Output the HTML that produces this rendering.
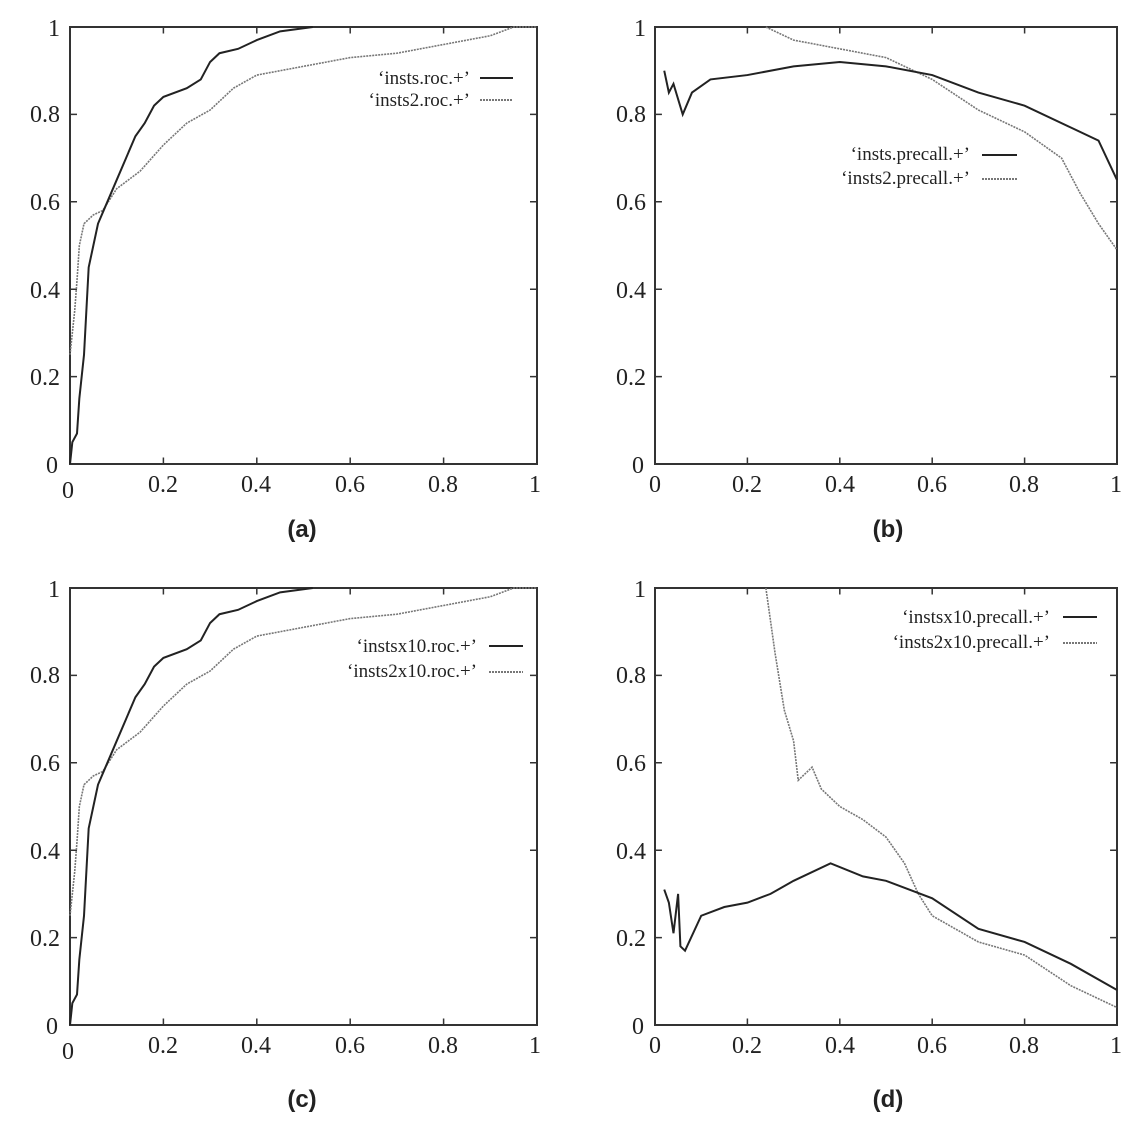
<!DOCTYPE html>
<html><head><style>
body{margin:0;background:#fff;}
text{font-family:"Liberation Serif",serif;fill:#222;}
text.c{font-family:"Liberation Sans",sans-serif;font-weight:bold;font-size:24px;}
.t{font-size:24px;}
.l{font-size:19px;}
</style></head><body>
<svg width="1141" height="1123" xmlns="http://www.w3.org/2000/svg">
<defs>
<g id="roc1"><polyline fill="none" stroke="#222" stroke-width="2" vector-effect="non-scaling-stroke" points="0,0 0.005,0.05 0.015,0.07 0.02,0.15 0.03,0.25 0.035,0.35 0.04,0.45 0.05,0.5 0.06,0.55 0.08,0.6 0.1,0.65 0.12,0.7 0.14,0.75 0.16,0.78 0.18,0.82 0.2,0.84 0.25,0.86 0.28,0.88 0.3,0.92 0.32,0.94 0.36,0.95 0.4,0.97 0.45,0.99 0.52,1"/></g>
<g id="roc2"><polyline fill="none" stroke="#777" stroke-width="1.6" stroke-dasharray="2,1" vector-effect="non-scaling-stroke" points="0,0.25 0.005,0.3 0.01,0.35 0.015,0.42 0.02,0.5 0.03,0.55 0.05,0.57 0.07,0.58 0.1,0.63 0.15,0.67 0.2,0.73 0.25,0.78 0.3,0.81 0.35,0.86 0.4,0.89 0.5,0.91 0.6,0.93 0.7,0.94 0.8,0.96 0.9,0.98 0.95,1 1,1"/></g>
<g id="box"><rect x="0" y="0" width="1" height="1" fill="none" stroke="#333" stroke-width="2" vector-effect="non-scaling-stroke"/>
<path d="M0.2,0v0.015M0.4,0v0.015M0.6,0v0.015M0.8,0v0.015M0.2,1v-0.015M0.4,1v-0.015M0.6,1v-0.015M0.8,1v-0.015M0,0.2h0.015M0,0.4h0.015M0,0.6h0.015M0,0.8h0.015M1,0.2h-0.015M1,0.4h-0.015M1,0.6h-0.015M1,0.8h-0.015" stroke="#333" stroke-width="1.5" vector-effect="non-scaling-stroke"/></g>
</defs>
<g transform="translate(70,464) scale(467,-437)"><use href="#box"/><use href="#roc2"/><use href="#roc1"/></g>
<g transform="translate(70,1025) scale(467,-437)"><use href="#box"/><use href="#roc2"/><use href="#roc1"/></g>
<g transform="translate(655,464) scale(462,-437)"><use href="#box"/>
<polyline fill="none" stroke="#777" stroke-width="1.6" stroke-dasharray="2,1" vector-effect="non-scaling-stroke" points="0.24,1 0.3,0.97 0.4,0.95 0.5,0.93 0.6,0.88 0.7,0.81 0.8,0.76 0.88,0.7 0.92,0.62 0.96,0.55 1,0.49"/>
<polyline fill="none" stroke="#222" stroke-width="2" vector-effect="non-scaling-stroke" points="0.02,0.9 0.03,0.85 0.04,0.87 0.06,0.8 0.08,0.85 0.12,0.88 0.2,0.89 0.3,0.91 0.4,0.92 0.5,0.91 0.6,0.89 0.7,0.85 0.8,0.82 0.9,0.77 0.96,0.74 1,0.65"/></g>
<g transform="translate(655,1025) scale(462,-437)"><use href="#box"/>
<polyline fill="none" stroke="#777" stroke-width="1.6" stroke-dasharray="2,1" vector-effect="non-scaling-stroke" points="0.24,1 0.26,0.85 0.28,0.72 0.3,0.65 0.31,0.56 0.34,0.59 0.36,0.54 0.4,0.5 0.45,0.47 0.5,0.43 0.54,0.37 0.57,0.3 0.6,0.25 0.7,0.19 0.8,0.16 0.9,0.09 1,0.04"/>
<polyline fill="none" stroke="#222" stroke-width="2" vector-effect="non-scaling-stroke" points="0.02,0.31 0.03,0.28 0.04,0.21 0.05,0.3 0.055,0.18 0.065,0.17 0.1,0.25 0.15,0.27 0.2,0.28 0.25,0.3 0.3,0.33 0.38,0.37 0.45,0.34 0.5,0.33 0.6,0.29 0.7,0.22 0.8,0.19 0.9,0.14 1,0.08"/></g>

<g class="t" text-anchor="end">
<text x="60" y="36">1</text><text x="60" y="122">0.8</text><text x="60" y="210">0.6</text><text x="60" y="298">0.4</text><text x="60" y="385">0.2</text><text x="58" y="473">0</text>
<text x="60" y="597">1</text><text x="60" y="683">0.8</text><text x="60" y="771">0.6</text><text x="60" y="859">0.4</text><text x="60" y="946">0.2</text><text x="58" y="1034">0</text>
<text x="646" y="36">1</text><text x="646" y="122">0.8</text><text x="646" y="210">0.6</text><text x="646" y="298">0.4</text><text x="646" y="385">0.2</text><text x="644" y="473">0</text>
<text x="646" y="597">1</text><text x="646" y="683">0.8</text><text x="646" y="771">0.6</text><text x="646" y="859">0.4</text><text x="646" y="946">0.2</text><text x="644" y="1034">0</text>
</g>
<g class="t" text-anchor="middle">
<text x="68" y="498">0</text><text x="163" y="492">0.2</text><text x="256" y="492">0.4</text><text x="350" y="492">0.6</text><text x="443" y="492">0.8</text><text x="535" y="492">1</text>
<text x="68" y="1059">0</text><text x="163" y="1053">0.2</text><text x="256" y="1053">0.4</text><text x="350" y="1053">0.6</text><text x="443" y="1053">0.8</text><text x="535" y="1053">1</text>
<text x="655" y="492">0</text><text x="747" y="492">0.2</text><text x="840" y="492">0.4</text><text x="932" y="492">0.6</text><text x="1024" y="492">0.8</text><text x="1116" y="492">1</text>
<text x="655" y="1053">0</text><text x="747" y="1053">0.2</text><text x="840" y="1053">0.4</text><text x="932" y="1053">0.6</text><text x="1024" y="1053">0.8</text><text x="1116" y="1053">1</text>
</g>
<g class="l" text-anchor="end">
<text x="470" y="84">‘insts.roc.+’</text><text x="470" y="106">‘insts2.roc.+’</text>
<text x="970" y="160">‘insts.precall.+’</text><text x="970" y="184">‘insts2.precall.+’</text>
<text x="477" y="652">‘instsx10.roc.+’</text><text x="477" y="677">‘insts2x10.roc.+’</text>
<text x="1050" y="623">‘instsx10.precall.+’</text><text x="1050" y="648">‘insts2x10.precall.+’</text>
</g>
<g stroke-width="2">
<line x1="480" y1="78" x2="513" y2="78" stroke="#222"/><line x1="480" y1="100" x2="513" y2="100" stroke="#777" stroke-dasharray="2,1"/>
<line x1="982" y1="155" x2="1017" y2="155" stroke="#222"/><line x1="982" y1="179" x2="1017" y2="179" stroke="#777" stroke-dasharray="2,1"/>
<line x1="489" y1="646" x2="523" y2="646" stroke="#222"/><line x1="489" y1="672" x2="523" y2="672" stroke="#777" stroke-dasharray="2,1"/>
<line x1="1063" y1="617" x2="1097" y2="617" stroke="#222"/><line x1="1063" y1="643" x2="1097" y2="643" stroke="#777" stroke-dasharray="2,1"/>
</g>
<g text-anchor="middle">
<text class="c" x="302" y="537">(a)</text><text class="c" x="888" y="537">(b)</text><text class="c" x="302" y="1107">(c)</text><text class="c" x="888" y="1107">(d)</text>
</g>
</svg>
</body></html>
